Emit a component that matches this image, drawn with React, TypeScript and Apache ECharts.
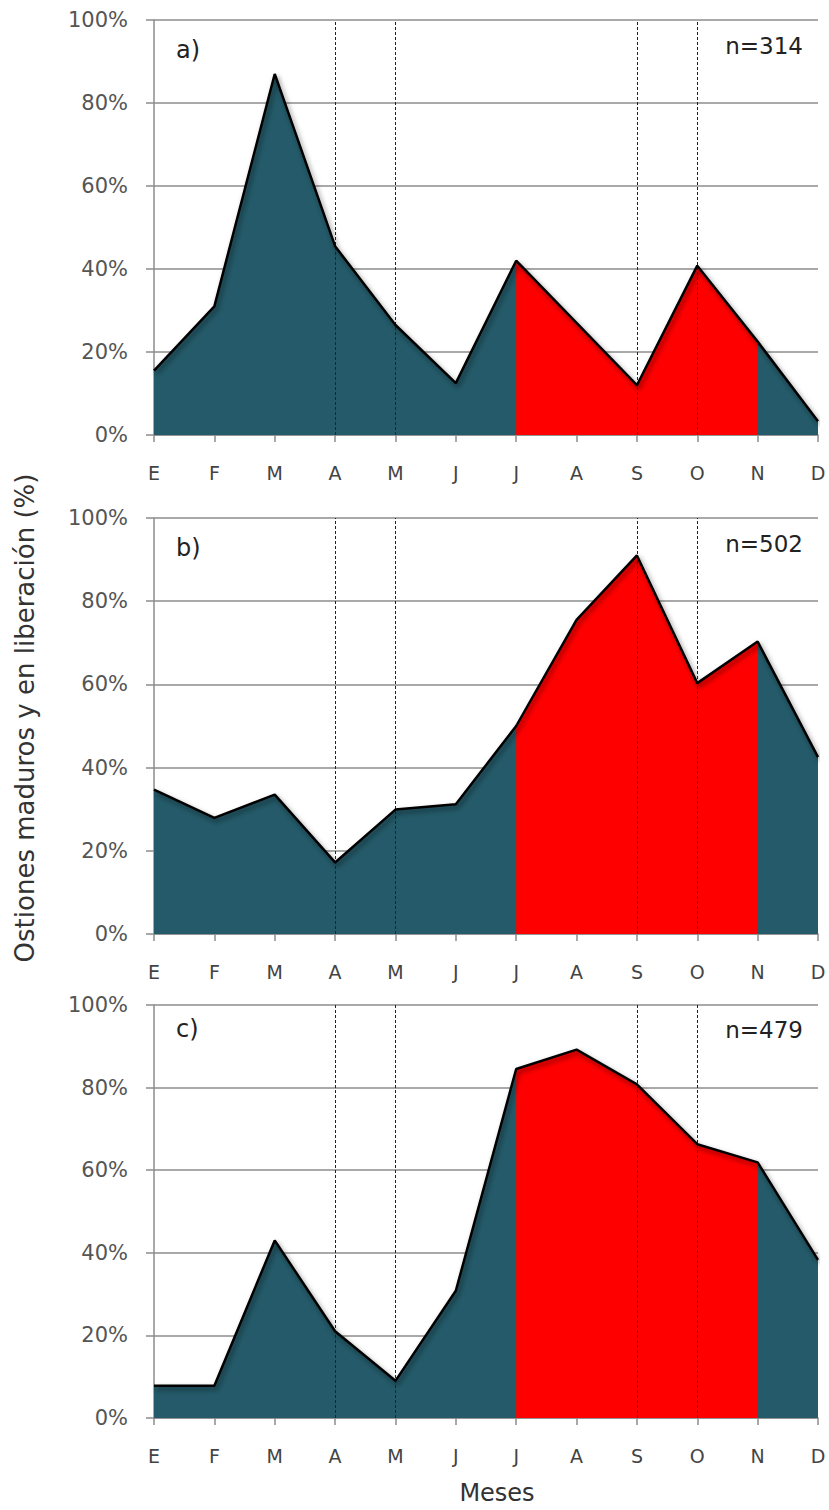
import React, { useEffect, useRef } from "react";
import * as echarts from "echarts";

const months = ["E", "F", "M", "A", "M", "J", "J", "A", "S", "O", "N", "D"];
const yTicks = [0, 20, 40, 60, 80, 100];

const panelA = [15.5, 31, 87, 45.5, 26.5, 12.5, 42, 27, 12, 40.8, 22.5, 3.3];
const panelB = [34.7, 27.9, 33.5, 17.2, 29.9, 31.2, 50, 75.5, 91, 60.3, 70.3, 42.5];
const panelC = [7.8, 7.8, 43, 21, 9, 30.8, 84.5, 89.2, 80.8, 66.3, 61.9, 38.3];

const panelLetters = ["a)", "b)", "c)"];
const panelN = ["n=314", "n=502", "n=479"];

const spawningStart = 6; // Jul
const spawningEnd = 10; // Nov
const dashedMonths = [3, 4, 8, 9];

const yTitle = "Ostiones maduros y en liberación (%)";
const xTitle = "Meses";

const TEAL = "#245a69";
const RED = "#ff0000";
const GRIDC = "#8c8c8c";
const FONT = "DejaVu Sans";

const grids = [
  { top: 20, height: 415 },
  { top: 518, height: 416 },
  { top: 1005, height: 413 },
];

export default function App() {
  const ref = useRef<HTMLDivElement>(null);
  useEffect(() => {
    document.body.style.margin = "0";
    const chart = echarts.init(ref.current!, null, { renderer: "svg" });
    const panels = [panelA, panelB, panelC];
    const series: any[] = [];
    panels.forEach((vals, i) => {
      series.push({
        type: "line",
        xAxisIndex: i,
        yAxisIndex: i,
        data: vals,
        symbol: "none",
        lineStyle: { width: 0 },
        areaStyle: { color: TEAL, opacity: 1 },
        z: 2,
        silent: true,
      });
      series.push({
        type: "line",
        xAxisIndex: i,
        yAxisIndex: i,
        data: vals.map((v, k) => (k >= spawningStart && k <= spawningEnd ? v : null)),
        symbol: "none",
        lineStyle: { width: 0 },
        areaStyle: { color: RED, opacity: 1 },
        z: 3,
        silent: true,
      });
      series.push({
        type: "line",
        xAxisIndex: i,
        yAxisIndex: i,
        data: vals,
        symbol: "none",
        lineStyle: {
          color: "#000",
          width: 2.5,
          shadowColor: "rgba(0,0,0,0.5)",
          shadowBlur: 5,
          shadowOffsetX: 2,
          shadowOffsetY: 3,
        },
        z: 5,
        silent: true,
        markLine: {
          silent: true,
          symbol: ["none", "none"],
          label: { show: false },
          lineStyle: { color: "#222", width: 1, type: [3, 2] },
          data: dashedMonths.map((m) => ({ xAxis: m })),
          z: 4,
        },
      });
    });

    const graphics: any[] = [];
    grids.forEach((g, i) => {
      graphics.push({
        type: "text",
        left: 176,
        top: g.top + (i === 2 ? 12 : 18),
        style: { text: panelLetters[i], fontSize: 24, fontFamily: FONT, fill: "#222" },
        z: 10,
      });
      graphics.push({
        type: "text",
        right: 26,
        top: g.top + (i === 2 ? 13 : 14),
        style: { text: panelN[i], fontSize: 23, fontFamily: FONT, fill: "#222" },
        z: 10,
      });
    });
    graphics.push({
      type: "text",
      x: 25,
      y: 718,
      rotation: Math.PI / 2,
      style: {
        text: yTitle,
        fontSize: 26,
        fontFamily: FONT,
        fill: "#333",
        align: "center",
        verticalAlign: "middle",
      },
    });
    graphics.push({
      type: "text",
      x: 497,
      y: 1493,
      style: {
        text: xTitle,
        fontSize: 24,
        fontFamily: FONT,
        fill: "#333",
        align: "center",
        verticalAlign: "middle",
      },
    });

    chart.setOption({
      animation: false,
      backgroundColor: "#fff",
      grid: grids.map((g) => ({ left: 154, width: 664, top: g.top, height: g.height })),
      xAxis: grids.map((_, i) => ({
        type: "category",
        gridIndex: i,
        data: months,
        boundaryGap: false,
        axisLine: { show: true, lineStyle: { color: GRIDC, width: 1.5 } },
        axisTick: { show: true, length: 7, lineStyle: { color: GRIDC, width: 1.5 } },
        axisLabel: {
          margin: 28,
          fontSize: 19,
          fontFamily: FONT,
          color: "#444",
          interval: 0,
        },
        splitLine: { show: false },
        z: 1,
      })),
      yAxis: grids.map((_, i) => ({
        type: "value",
        gridIndex: i,
        min: yTicks[0],
        max: yTicks[yTicks.length - 1],
        interval: yTicks[1] - yTicks[0],
        axisLine: { show: true, lineStyle: { color: GRIDC, width: 1.5 } },
        axisTick: { show: true, length: 8, lineStyle: { color: GRIDC, width: 1.5 } },
        axisLabel: {
          formatter: "{value}%",
          margin: 26,
          fontSize: 21,
          fontFamily: FONT,
          color: "#555",
        },
        splitLine: { show: true, lineStyle: { color: GRIDC, width: 1.5 } },
        z: 1,
      })),
      series,
      graphic: graphics,
    });
    return () => chart.dispose();
  }, []);
  return <div ref={ref} style={{ width: 829, height: 1510 }} />;
}
